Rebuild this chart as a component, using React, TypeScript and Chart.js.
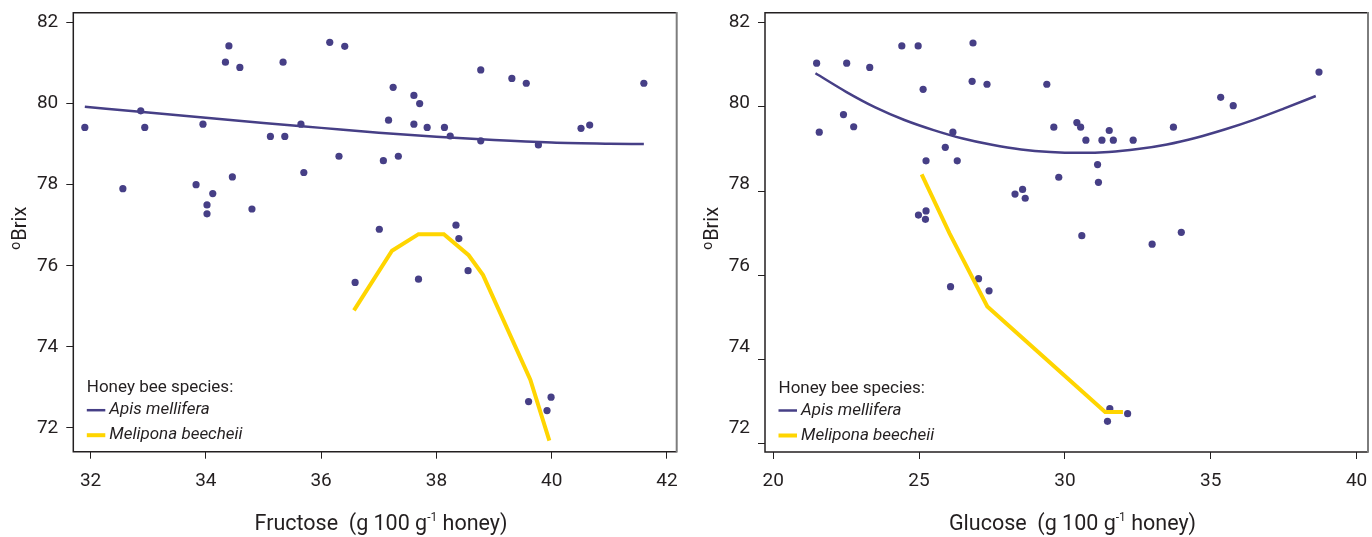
import React, { useEffect, useRef } from "react";
import { Chart, registerables } from "chart.js";

Chart.register(...registerables);

// ---------- data ----------
const fructoseTicks = [32, 34, 36, 38, 40, 42];
const glucoseTicks = [20, 25, 30, 35, 40];
const brixTicks = [72, 74, 76, 78, 80, 82];

const legendTitle = "Honey bee species:";
const seriesNames = ["Apis mellifera", "Melipona beecheii"];

// Left panel samples: fructose vs °Brix
const fructoseValues = [
  31.9, 32.56, 32.87, 32.94, 33.83, 33.95, 34.02, 34.02, 34.12, 34.34, 34.4, 34.59, 34.46, 34.8,
  35.12, 35.37, 35.34, 35.65, 35.7, 36.15, 36.41, 36.31, 37.08, 37.17, 37.01, 37.25, 37.34, 37.61,
  37.71, 37.61, 37.84, 38.14, 38.24, 38.77, 38.77, 38.34, 39.31, 39.56, 39.77, 40.51, 40.66, 41.6,
  38.39, 37.69, 38.55, 39.6, 39.99, 39.92, 36.59,
];
const brixByFructose = [
  79.41, 77.9, 79.82, 79.41, 78.0, 79.49, 77.5, 77.28, 77.78, 81.02, 81.42, 80.89, 78.19, 77.4,
  79.19, 79.19, 81.02, 79.49, 78.3, 81.51, 81.41, 78.7, 78.59, 79.59, 76.9, 80.4, 78.7, 80.2,
  80.0, 79.49, 79.41, 79.41, 79.2, 80.83, 79.08, 77.0, 80.62, 80.5, 78.98, 79.39, 79.47, 80.5,
  76.67, 75.67, 75.88, 72.65, 72.76, 72.43, 75.59,
];

// Right panel samples: glucose vs °Brix
const glucoseValues = [
  21.49, 21.58, 22.52, 22.41, 22.76, 23.31, 24.41, 24.97, 25.14, 25.24, 24.98, 25.24, 25.22, 25.9,
  26.16, 26.31, 26.85, 26.82, 27.33, 28.29, 28.55, 28.64, 29.38, 29.62, 29.79, 30.41, 30.54, 30.72,
  31.27, 31.52, 31.66, 32.34, 31.12, 31.15, 33.72, 35.34, 35.77, 38.71, 30.58, 32.99, 33.99, 31.54,
  31.46, 32.15, 26.08, 27.04, 27.4,
];
const brixByGlucose = [
  81.04, 79.4, 81.04, 79.82, 79.53, 80.94, 81.45, 81.45, 80.42, 78.72, 77.43, 77.53, 77.33, 79.04,
  79.4, 78.72, 81.52, 80.61, 80.54, 77.93, 78.04, 77.83, 80.54, 79.52, 78.33, 79.63, 79.52, 79.21,
  79.21, 79.44, 79.21, 79.21, 78.63, 78.21, 79.52, 80.23, 80.03, 80.83, 76.94, 76.74, 77.02, 72.83,
  72.53, 72.71, 75.73, 75.92, 75.63,
];

// Fitted curves
const apisFructoseFitX = [31.9, 33, 34, 35, 36, 37, 38, 39, 40, 41, 41.6];
const apisFructoseFitY = [79.92, 79.78, 79.65, 79.52, 79.4, 79.28, 79.18, 79.1, 79.04, 79.01, 79.0];
const meliponaFructoseFitX = [36.57, 37.23, 37.69, 38.13, 38.56, 38.81, 39.63, 39.96];
const meliponaFructoseFitY = [74.9, 76.37, 76.78, 76.78, 76.26, 75.77, 73.19, 71.69];

const apisGlucoseFitX = [21.45, 22.5, 23.5, 24.5, 25.5, 26.5, 27.5, 28.5, 29.5, 30.5, 31.5, 32.5, 33.5, 34.5, 35.5, 36.5, 37.5, 38.6];
const apisGlucoseFitY = [80.8, 80.36, 79.99, 79.69, 79.45, 79.25, 79.1, 78.99, 78.93, 78.91, 78.93, 79.0, 79.11, 79.27, 79.47, 79.7, 79.96, 80.26];
const meliponaGlucoseFitX = [25.09, 26.05, 27.34, 31.38, 31.99];
const meliponaGlucoseFitY = [78.4, 76.99, 75.26, 72.75, 72.75];

// ---------- styles ----------
const FONT = 'Roboto, "Noto Sans", sans-serif';
const INK = "#231f20";
const APIS = "#463f86";
const MELI = "#ffd500";

const pts = (xs: number[], ys: number[]) => xs.map((x, i) => ({ x, y: ys[i] }));

type TitleParts = { before: string; sup: string; after: string };

function drawXTitle(ctx: CanvasRenderingContext2D, cx: number, cy: number, t: TitleParts) {
  ctx.save();
  ctx.fillStyle = INK;
  ctx.textBaseline = "middle";
  ctx.textAlign = "left";
  const big = `21.5px ${FONT}`;
  const small = `12px ${FONT}`;
  ctx.font = big;
  const w1 = ctx.measureText(t.before).width;
  const w3 = ctx.measureText(t.after).width;
  ctx.font = small;
  const w2 = ctx.measureText(t.sup).width;
  const total = w1 + w2 + w3;
  let x = cx - total / 2;
  ctx.font = big;
  ctx.fillText(t.before, x, cy);
  x += w1;
  ctx.font = small;
  ctx.fillText(t.sup, x, cy - 7);
  x += w2;
  ctx.font = big;
  ctx.fillText(t.after, x, cy);
  ctx.restore();
}

function drawYTitle(ctx: CanvasRenderingContext2D, cx: number, cy: number) {
  ctx.save();
  ctx.translate(cx, cy);
  ctx.rotate(-Math.PI / 2);
  ctx.fillStyle = INK;
  ctx.textBaseline = "middle";
  ctx.textAlign = "left";
  const big = `20px ${FONT}`;
  const small = `14px ${FONT}`;
  ctx.font = big;
  const w2 = ctx.measureText("Brix").width;
  ctx.font = small;
  const w1 = ctx.measureText("o").width;
  const total = w1 + w2 + 1;
  let x = -total / 2;
  ctx.fillText("o", x, -5);
  x += w1 + 1;
  ctx.font = big;
  ctx.fillText("Brix", x, 0);
  ctx.restore();
}

function makeDecor(xTitle: TitleParts, getLabelScale?: () => any) {
  return {
    id: "decor",
    afterDatasetsDraw(chart: any) {
      const { ctx, chartArea: a } = chart;
      ctx.save();
      // frame
      ctx.strokeStyle = INK;
      ctx.lineWidth = 1.5;
      ctx.beginPath();
      ctx.moveTo(a.right, a.top);
      ctx.lineTo(a.left, a.top);
      ctx.lineTo(a.left, a.bottom);
      ctx.lineTo(a.right, a.bottom);
      ctx.stroke();
      ctx.strokeStyle = "#7d7d7d";
      ctx.lineWidth = 2;
      ctx.beginPath();
      ctx.moveTo(a.right, a.top - 0.75);
      ctx.lineTo(a.right, a.bottom + 0.75);
      ctx.stroke();

      // legend
      const lx = a.left + 13.5;
      ctx.fillStyle = INK;
      ctx.textBaseline = "middle";
      ctx.textAlign = "left";
      ctx.font = `17px ${FONT}`;
      ctx.fillText(legendTitle, lx, a.bottom - 63.5);
      const rows = [
        { name: seriesNames[0], color: APIS, w: 2.5, y: a.bottom - 41.5 },
        { name: seriesNames[1], color: MELI, w: 4, y: a.bottom - 16.5 },
      ];
      rows.forEach((r) => {
        ctx.strokeStyle = r.color;
        ctx.lineWidth = r.w;
        ctx.beginPath();
        ctx.moveTo(lx, r.y);
        ctx.lineTo(lx + 18.5, r.y);
        ctx.stroke();
        ctx.fillStyle = INK;
        ctx.font = `italic 17px ${FONT}`;
        ctx.fillText(r.name, lx + 22.5, r.y);
      });

      // optional y tick labels placed from another scale
      if (getLabelScale) {
        const s = getLabelScale();
        if (s) {
          ctx.fillStyle = INK;
          ctx.font = `19px ${FONT}`;
          ctx.textAlign = "right";
          ctx.textBaseline = "middle";
          brixTicks.forEach((v) => {
            ctx.fillText(String(v), a.left - 15, s.getPixelForValue(v));
          });
        }
      }

      // axis titles
      drawXTitle(ctx, (a.left + a.right) / 2 + 6, a.bottom + 73, xTitle);
      drawYTitle(ctx, a.left - 52, (a.top + a.bottom) / 2 - 4);
      ctx.restore();
    },
  };
}

function buildConfig(opts: {
  points: { x: number; y: number }[];
  apisFit: { x: number; y: number }[];
  meliFit: { x: number; y: number }[];
  xMin: number;
  xMax: number;
  yMin: number;
  yMax: number;
  xTicks: number[];
  yAxisWidth: number;
  rightPad: number;
  xAxisHeight: number;
  showYLabels: boolean;
  decor: any;
}) {
  return {
    type: "scatter" as const,
    data: {
      datasets: [
        {
          label: seriesNames[1],
          data: opts.meliFit,
          showLine: true,
          borderColor: MELI,
          backgroundColor: MELI,
          borderWidth: 4,
          pointRadius: 0,
          order: 0,
        },
        {
          label: seriesNames[0],
          data: opts.apisFit,
          showLine: true,
          borderColor: APIS,
          backgroundColor: APIS,
          borderWidth: 2.5,
          pointRadius: 0,
          cubicInterpolationMode: "monotone" as const,
          order: 1,
        },
        {
          label: "samples",
          data: opts.points,
          showLine: false,
          backgroundColor: APIS,
          borderWidth: 0,
          pointRadius: 3.6,
          order: 2,
        },
      ],
    },
    options: {
      responsive: false,
      animation: false as const,
      layout: { padding: { top: 12.7, right: opts.rightPad, left: 0, bottom: 0 } },
      plugins: { legend: { display: false }, tooltip: { enabled: false } },
      scales: {
        x: {
          type: "linear" as const,
          min: opts.xMin,
          max: opts.xMax,
          afterBuildTicks: (s: any) => {
            s.ticks = opts.xTicks.map((v) => ({ value: v }));
          },
          afterFit: (s: any) => {
            s.height = opts.xAxisHeight;
            s.paddingLeft = 0;
            s.paddingRight = 0;
          },
          border: { display: false },
          grid: { display: true, drawOnChartArea: false, drawTicks: true, tickLength: 7, color: INK, lineWidth: 1 },
          ticks: { color: INK, font: { family: FONT, size: 19 }, padding: 11, maxRotation: 0 },
        },
        y: {
          type: "linear" as const,
          min: opts.yMin,
          max: opts.yMax,
          afterBuildTicks: (s: any) => {
            s.ticks = brixTicks.map((v) => ({ value: v }));
          },
          afterFit: (s: any) => {
            s.width = opts.yAxisWidth;
            s.paddingTop = 0;
            s.paddingBottom = 0;
          },
          border: { display: false },
          grid: { display: true, drawOnChartArea: false, drawTicks: true, tickLength: 7, color: INK, lineWidth: 1 },
          ticks: { display: opts.showYLabels, color: INK, font: { family: FONT, size: 19 }, padding: 8 },
        },
      },
    },
    plugins: [opts.decor],
  };
}

export default function App() {
  const leftRef = useRef<HTMLCanvasElement>(null);
  const rightRef = useRef<HTMLCanvasElement>(null);

  useEffect(() => {
    if (!leftRef.current || !rightRef.current) return;
    const left = new Chart(
      leftRef.current,
      buildConfig({
        points: pts(fructoseValues, brixByFructose),
        apisFit: pts(apisFructoseFitX, apisFructoseFitY),
        meliFit: pts(meliponaFructoseFitX, meliponaFructoseFitY),
        xMin: 31.7,
        xMax: 42.17,
        yMin: 71.415,
        yMax: 82.24,
        xTicks: fructoseTicks,
        yAxisWidth: 73.3,
        rightPad: 9.3,
        xAxisHeight: 85.3,
        showYLabels: true,
        decor: makeDecor({ before: "Fructose  (g 100 g", sup: "-1", after: " honey)" }),
      }) as any
    );
    const right = new Chart(
      rightRef.current,
      buildConfig({
        points: pts(glucoseValues, brixByGlucose),
        apisFit: pts(apisGlucoseFitX, apisGlucoseFitY),
        meliFit: pts(meliponaGlucoseFitX, meliponaGlucoseFitY),
        xMin: 19.72,
        xMax: 40.39,
        yMin: 71.8,
        yMax: 82.24,
        xTicks: glucoseTicks,
        yAxisWidth: 79,
        rightPad: 3.7,
        xAxisHeight: 85,
        showYLabels: false,
        decor: makeDecor({ before: "Glucose  (g 100 g", sup: "-1", after: " honey)" }, () => left.scales.y),
      }) as any
    );
    return () => {
      right.destroy();
      left.destroy();
    };
  }, []);

  return (
    <div style={{ position: "absolute", left: 0, top: 0, width: 1372, height: 537, background: "#fff" }}>
      <canvas ref={leftRef} width={686} height={537} style={{ position: "absolute", left: 0, top: 0 }} />
      <canvas ref={rightRef} width={686} height={537} style={{ position: "absolute", left: 686, top: 0 }} />
    </div>
  );
}
